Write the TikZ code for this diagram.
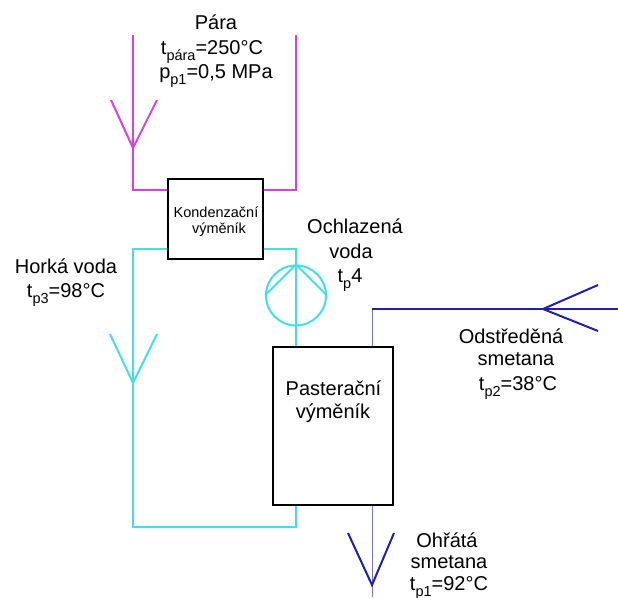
\documentclass[tikz,border=0pt]{standalone}
\usepackage{fontspec}
\setmainfont{Liberation Sans}
\newcommand\subx[1]{\raisebox{-0.3em}{\fontsize{14.5}{15}\selectfont #1}}
\definecolor{magline}{RGB}{218,64,222}
\definecolor{cyanline}{RGB}{64,224,228}
\definecolor{darkblue}{RGB}{32,32,176}
\definecolor{lightblue}{RGB}{120,120,205}
\tikzset{
  lbl/.style={anchor=base, inner sep=0pt, font=\fontsize{20}{24}\selectfont},
  slbl/.style={anchor=base, inner sep=0pt, font=\fontsize{14.5}{17}\selectfont},
  boxnode/.style={draw=black, line width=1.4pt, rectangle, inner sep=0pt},
  magpipe/.style={draw=magline, line width=2pt},
  cyanpipe/.style={draw=cyanline, line width=2pt},
  bluepipe/.style={draw=darkblue, line width=2pt},
  thinblue/.style={draw=lightblue, line width=1pt},
}
\begin{document}
\begin{tikzpicture}[x=1pt,y=-1pt]
\useasboundingbox (0,0) rectangle (618,597);
% boxes
\node[boxnode, minimum width=95pt, minimum height=80pt] (kond) at (215.5,219) {};
\node[boxnode, minimum width=120pt, minimum height=158pt] (past) at (333,426) {};
\node[draw=cyanline, line width=2pt, circle, minimum size=60pt, inner sep=0pt] (pump) at (296,295.5) {};
% coordinates
\coordinate (mL) at (133,35);
\coordinate (mR) at (296,35);
\coordinate (cL) at (133,527);
\coordinate (bc) at (372,309);
\coordinate (bR) at (618,309);
\coordinate (bB) at (372,597);
% magenta pipes
\draw[magpipe] (mL) |- ([yshift=29pt]kond.west);
\draw[magpipe] (mR) |- ([yshift=29pt]kond.east);
\draw[magpipe] (111,100) -- (133,148) -- (157,100);
% cyan pipes
\draw[cyanpipe] ([yshift=-30pt]kond.west) -| (cL) -| ([xshift=-37pt]past.south);
\draw[cyanpipe] ([yshift=-30pt]kond.east) -| (pump.north) -- ([xshift=-37pt]past.north);
\draw[cyanpipe] (pump.west) -- (pump.north) -- (pump.east);
\draw[cyanpipe] (110,334) -- (133,383) -- (157,334);
% blue pipes
\draw[thinblue] ([xshift=39pt]past.north) -- (bc);
\draw[bluepipe] (bc) -- (bR);
\draw[thinblue] ([xshift=39pt]past.south) -- (bB);
\draw[bluepipe] (598,285) -- (543,309) -- (598,331);
\draw[bluepipe] (348,533) -- (372,585) -- (394,533);
% labels
\node[lbl] (para1) at (216,29) {Pára};
\node[lbl] (para2) at (212,54) {t\subx{pára}=250°C};
\node[lbl] (para3) at (216,78) {p\subx{p1}=0,5 MPa};
\node[slbl] (kond1) at (216,217) {Kondenzační};
\node[slbl] (kond2) at (219,233) {výměník};
\node[lbl] (hv1) at (66,273) {Horká voda};
\node[lbl] (hv2) at (66,297) {t\subx{p3}=98°C};
\node[lbl] (ov1) at (355,233) {Ochlazená};
\node[lbl] (ov2) at (351,258) {voda};
\node[lbl] (ov3) at (350,282) {t\subx{p}4};
\node[lbl] (past1) at (333.5,395) {Pasterační};
\node[lbl] (past2) at (333,418) {výměník};
\node[lbl] (os1) at (511,343) {Odstředěná};
\node[lbl] (os2) at (516,365) {smetana};
\node[lbl] (os3) at (518,390) {t\subx{p2}=38°C};
\node[lbl] (oh1) at (447,547) {Ohřátá};
\node[lbl] (oh2) at (449,568) {smetana};
\node[lbl] (oh3) at (449,590) {t\subx{p1}=92°C};
\end{tikzpicture}
\end{document}
